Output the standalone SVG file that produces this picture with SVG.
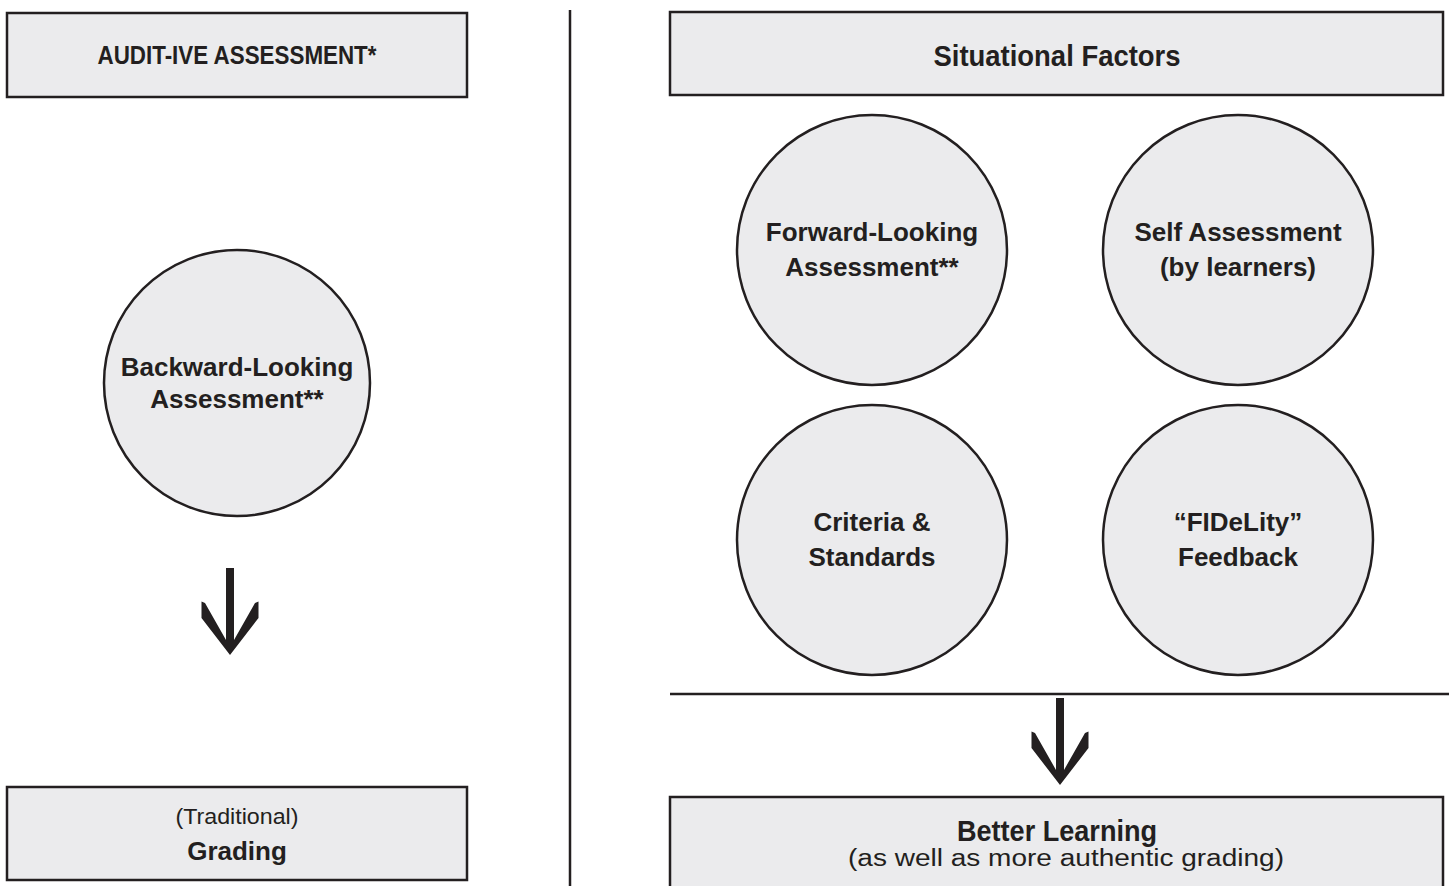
<svg xmlns="http://www.w3.org/2000/svg" width="1449" height="886" viewBox="0 0 1449 886">
<style>
.box{fill:#ebebed;stroke:#231f20;stroke-width:2.5}
.node{fill:#ebebed;stroke:#231f20;stroke-width:2.5}
.t{font-family:"Liberation Sans",Arial,sans-serif;fill:#231f20;text-anchor:middle}
.b{font-weight:bold;font-size:26px}
.r{font-size:22px}
.line{stroke:#231f20;stroke-width:2.5;fill:none}
.arrow{fill:#231f20}
</style>
<defs>
<path id="arr" d="M -4,-87 L 4,-87 L 4,-15 L 25,-52 L 28.5,-53.5 L 28.5,-37 L 0,0 L -28.5,-37 L -28.5,-53.5 L -25,-52 L -4,-15 Z"/>
</defs>
<rect width="1449" height="886" fill="#ffffff"/>

<g id="audit">
<rect class="box" x="7" y="13" width="460" height="84"/>
<text class="t" x="237" y="64" font-weight="bold" font-size="25" textLength="279" lengthAdjust="spacingAndGlyphs">AUDIT-IVE ASSESSMENT*</text>
</g>

<g id="backward">
<circle class="node" cx="237" cy="383" r="133"/>
<text class="t b" x="237" y="376">Backward-Looking</text>
<text class="t b" x="237" y="408">Assessment**</text>
</g>

<g id="grading">
<rect class="box" x="7" y="787" width="460" height="93"/>
<text class="t r" x="237" y="824" textLength="123" lengthAdjust="spacingAndGlyphs">(Traditional)</text>
<text class="t b" x="237" y="860">Grading</text>
</g>

<g id="situational">
<rect class="box" x="670" y="12" width="773" height="83"/>
<text class="t" x="1057" y="66" font-weight="bold" font-size="29" textLength="247" lengthAdjust="spacingAndGlyphs">Situational Factors</text>
</g>

<g id="forward">
<circle class="node" cx="872" cy="250" r="135"/>
<text class="t b" x="872" y="241">Forward-Looking</text>
<text class="t b" x="872" y="276">Assessment**</text>
</g>

<g id="self">
<circle class="node" cx="1238" cy="250" r="135"/>
<text class="t b" x="1238" y="241">Self Assessment</text>
<text class="t b" x="1238" y="276">(by learners)</text>
</g>

<g id="criteria">
<circle class="node" cx="872" cy="540" r="135"/>
<text class="t b" x="872" y="531">Criteria &amp;</text>
<text class="t b" x="872" y="566">Standards</text>
</g>

<g id="fidelity">
<circle class="node" cx="1238" cy="540" r="135"/>
<text class="t b" x="1238" y="531">“FIDeLity”</text>
<text class="t b" x="1238" y="566">Feedback</text>
</g>

<g id="better">
<path class="box" d="M 670,890 L 670,797 L 1443,797 L 1443,890"/>
<text class="t" x="1057" y="841" font-weight="bold" font-size="29" textLength="200" lengthAdjust="spacingAndGlyphs">Better Learning</text>
<text class="t" x="1066" y="866" font-size="23" textLength="436" lengthAdjust="spacingAndGlyphs">(as well as more authentic grading)</text>
</g>

<g id="connectors">
<line class="line" x1="570" y1="10" x2="570" y2="886"/>
<line class="line" x1="670" y1="694" x2="1449" y2="694"/>
<use href="#arr" class="arrow" transform="translate(230,655)"/>
<use href="#arr" class="arrow" transform="translate(1060,785)"/>
</g>
</svg>
